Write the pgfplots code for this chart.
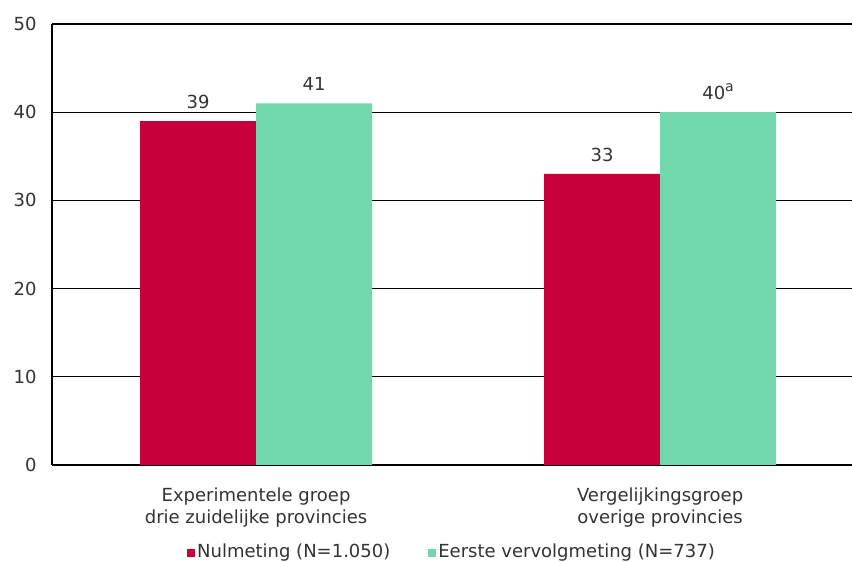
\documentclass[border=0pt]{standalone}
\usepackage{pgfplots}
\pgfplotsset{compat=1.18}
\usepackage{fontspec}
\setmainfont{DejaVu Sans}
\definecolor{barred}{HTML}{C8003A}
\definecolor{bargreen}{HTML}{70D8AC}
\definecolor{txt}{HTML}{333333}
\newcommand{\fs}{\fontsize{18}{22}\selectfont}
\begin{document}
\begin{tikzpicture}
\path[use as bounding box] (-52pt,-97pt) rectangle (800pt,465pt);
\begin{axis}[
  at={(0pt,0pt)}, anchor=south west,
  scale only axis, width=800pt, height=441pt,
  xmin=-0.505, xmax=1.475, ymin=0, ymax=50,
  ytick={0,10,20,30,40,50},
  xtick={0,1},
  xticklabels={{Experimentele groep\\drie zuidelijke provincies},{Vergelijkingsgroep\\overige provincies}},
  xticklabel style={align=center, font=\fs, text=txt, yshift=-19pt},
  yticklabel style={font=\fs, text=txt, xshift=-12pt},
  /pgf/number format/assume math mode=true,
  axis x line=bottom, axis y line=left,
  axis line style={-, black, line width=1.2pt},
  major tick length=0pt,
  ymajorgrids, grid style={black, line width=1.2pt},
  ybar=0pt, bar width=116pt,
  nodes near coords,
  point meta=explicit symbolic,
  every node near coord/.append style={font=\fs, text=txt, anchor=south, yshift=9pt},
  legend columns=2,
  legend style={draw=none, fill=none, at={(0.5,-0.197)}, anchor=center,
    font=\fs, text=txt, inner sep=0pt,
    /tikz/every even column/.append style={column sep=36pt}},
  legend image code/.code={\fill (-4pt,-5pt) rectangle (4pt,3pt);},
  clip=false,
]
\addplot[fill=barred, draw=none] coordinates {(0,39) [39] (1,33) [33]};
\addplot[fill=bargreen, draw=none] coordinates {(0,41) [41] (1,40) [{40\raisebox{0.42em}{\fontsize{14}{14}\selectfont a}}]};
\legend{Nulmeting (N=1.050),Eerste vervolgmeting (N=737)}
\end{axis}
\end{tikzpicture}
\end{document}
